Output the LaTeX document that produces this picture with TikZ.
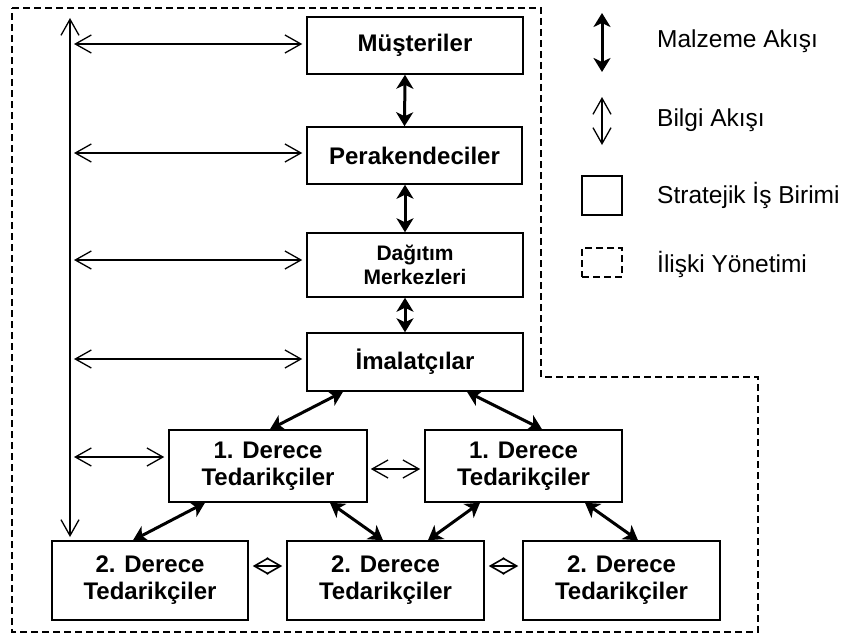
\documentclass[tikz,border=0pt]{standalone}
\usepackage{fontspec}
\setmainfont{Liberation Sans}
\usetikzlibrary{arrows.meta}
\begin{document}
\begin{tikzpicture}[x=1pt,y=-1pt,
  unit/.style={draw,line width=1.5pt,align=center,inner sep=0pt,
    font=\fontsize{24}{27}\selectfont\bfseries},
  material/.style={line width=3pt,
    {Stealth[length=14pt,width=17pt,inset=4pt]}-{Stealth[length=14pt,width=17pt,inset=4pt]}},
  info/.style={line width=1.3pt,
    {Straight Barb[length=16pt,width=18pt]}-{Straight Barb[length=16pt,width=18pt]}},
  infosmall/.style={line width=1.6pt,
    {Straight Barb[length=14pt,width=16pt]}-{Straight Barb[length=14pt,width=16pt]}},
  relation/.style={line width=1.5pt,dash pattern=on 7pt off 4pt},
  legendtext/.style={anchor=west,inner sep=0pt,font=\fontsize{24.5}{28}\selectfont}]
\useasboundingbox (0,0) rectangle (843,634);

% relationship management boundary
\draw[relation] (12,8) -- (541,8) -- (541,377) -- (758,377) -- (758,632) -- (12,632) -- cycle;

% business units
\node[unit,minimum width=216pt,minimum height=57pt] (mus) at (415,45.5) {Müşteriler};
\node[unit,minimum width=215pt,minimum height=57pt] (per) at (414.5,155.5) {Perakendeciler};
\node[unit,minimum width=216pt,minimum height=64pt,
      font=\fontsize{21}{24}\selectfont\bfseries] (dag) at (415,265) {Dağıtım\\Merkezleri};
\node[unit,minimum width=216pt,minimum height=58pt] (ima) at (415,362) {İmalatçılar};
\node[unit,minimum width=198pt,minimum height=72pt] (t1a) at (268,466) {1. Derece\\Tedarikçiler};
\node[unit,minimum width=197pt,minimum height=72pt] (t1b) at (523.5,466) {1. Derece\\Tedarikçiler};
\node[unit,minimum width=196pt,minimum height=79pt] (t2a) at (150,580.5) {2. Derece\\Tedarikçiler};
\node[unit,minimum width=197pt,minimum height=79pt] (t2b) at (385.5,580.5) {2. Derece\\Tedarikçiler};
\node[unit,minimum width=197pt,minimum height=79pt] (t2c) at (621.5,580.5) {2. Derece\\Tedarikçiler};

% material flow
\draw[material] ([xshift=-10pt]mus.south) -- ([xshift=-10pt]per.north);
\draw[material] ([xshift=-9.5pt]per.south) -- ([xshift=-10pt]dag.north);
\draw[material] ([xshift=-10pt]dag.south) -- ([xshift=-10pt]ima.north);
\draw[material] ([xshift=-72pt]ima.south) -- ([xshift=2pt]t1a.north);
\draw[material] ([xshift=52pt]ima.south) -- ([xshift=18.5pt]t1b.north);
\draw[material] ([xshift=-63pt]t1a.south) -- ([xshift=-17pt]t2a.north);
\draw[material] ([xshift=62pt]t1a.south) -- ([xshift=-2.5pt]t2b.north);
\draw[material] ([xshift=-43.5pt]t1b.south) -- ([xshift=42.5pt]t2b.north);
\draw[material] ([xshift=61.5pt]t1b.south) -- ([xshift=16.5pt]t2c.north);

% information flow
\coordinate (vtop) at (70,18);
\coordinate (vbot) at (70,537);
\draw[info] (vtop) -- (vbot);
\coordinate (i1) at (74,44);
\coordinate (i2) at (74,153);
\coordinate (i3) at (74,260);
\coordinate (i4) at (74,359);
\coordinate (i5) at (74,457);
\draw[info,shorten >=4pt] (i1) -- (i1 -| mus.west);
\draw[info,shorten >=4pt] (i2) -- (i2 -| per.west);
\draw[info,shorten >=4pt] (i3) -- (i3 -| dag.west);
\draw[info,shorten >=4pt] (i4) -- (i4 -| ima.west);
\draw[info,shorten >=4pt] (i5) -- (i5 -| t1a.west);
\draw[info,shorten <=3pt,shorten >=4pt] ([yshift=-3pt]t1a.east) -- ([yshift=-3pt]t1b.west);
\draw[infosmall,shorten <=4pt,shorten >=4pt] ([yshift=14.5pt]t2a.east) -- ([yshift=14.5pt]t2b.west);
\draw[infosmall,shorten <=4pt,shorten >=4pt] ([yshift=14.5pt]t2b.east) -- ([yshift=14.5pt]t2c.west);

% legend
\coordinate (lm1) at (602,13);
\coordinate (lm2) at (602,72);
\draw[material] (lm1) -- (lm2);
\node[legendtext] (lmt) at (657,41) {Malzeme Akışı};
\coordinate (lb1) at (602,97);
\coordinate (lb2) at (602,145);
\draw[info] (lb1) -- (lb2);
\node[legendtext] (lbt) at (657,120) {Bilgi Akışı};
\node[draw,line width=1.5pt,minimum width=40pt,minimum height=39pt,inner sep=0pt] (lsq) at (602,195.5) {};
\node[legendtext] (lst) at (657,195) {Stratejik İş Birimi};
\node[relation,draw,minimum width=40pt,minimum height=29pt,inner sep=0pt] (lds) at (602,262.5) {};
\node[legendtext] (ldt) at (657,264) {İlişki Yönetimi};
\end{tikzpicture}
\end{document}
